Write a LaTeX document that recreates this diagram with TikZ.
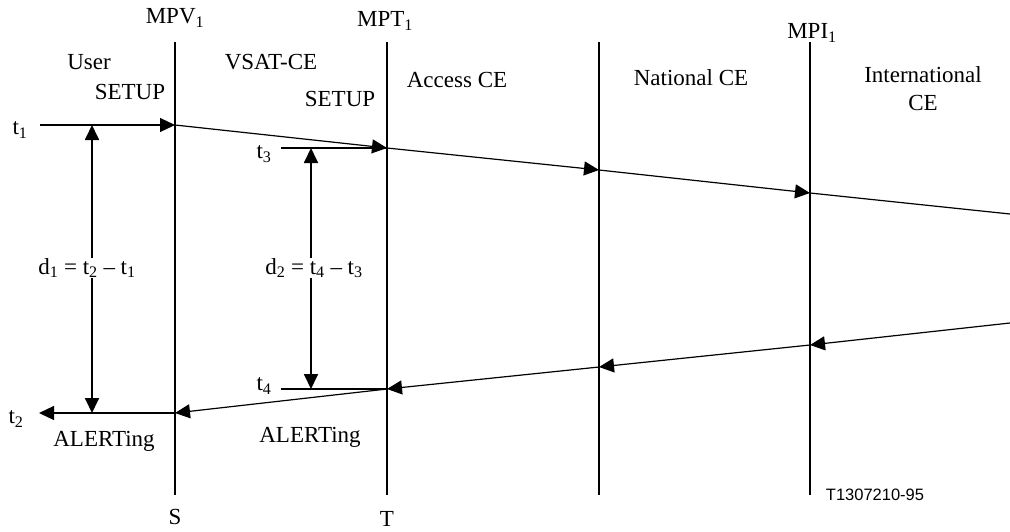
\documentclass[tikz,border=0pt]{standalone}
\usepackage{fontspec}
\setmainfont{Liberation Serif}
\newfontfamily\figsans{Liberation Sans}
\usetikzlibrary{arrows.meta}
\newcommand\sub[1]{\textsubscript{#1}}
\begin{document}
\begin{tikzpicture}[x=1pt,y=-1pt,
  lbl/.style={font=\fontsize{23}{26}\selectfont, inner sep=0pt},
  sepline/.style={line width=1.9pt},
  tick/.style={line width=1.6pt},
  tipA/.tip={Triangle[length=15pt,width=14pt]},
  msg/.style={line width=1.2pt, -tipA},
  span/.style={line width=1.8pt, tipA-tipA}]
\useasboundingbox (0,0) rectangle (1010,531);

% reference points (vertical boundaries)
\foreach \n/\x in {V/175,T/387,N/599,I/810}{
  \coordinate (\n top) at (\x,42);
  \coordinate (\n bot) at (\x,495);
}
% message crossings
\coordinate (V1) at (175,125);
\coordinate (T1) at (387,148);
\coordinate (N1) at (599,170);
\coordinate (I1) at (810,193);
\coordinate (E1) at (1010,214);
\coordinate (E2) at (1010,323);
\coordinate (I2) at (810,345);
\coordinate (N2) at (599,367);
\coordinate (T2) at (387,389);
\coordinate (V2) at (175,413);
% free ends
\coordinate (s1) at (40,125);
\coordinate (s2) at (39,413);
\coordinate (s3) at (281,148);
\coordinate (s4) at (281,389);
\coordinate (d1a) at (92,125);
\coordinate (d1b) at (92,413);
\coordinate (d2a) at (311,148);
\coordinate (d2b) at (311,389);

% boundaries
\foreach \n in {V,T,N,I}{ \draw[sepline] (\n top) -- (\n bot); }

% SETUP forward
\draw[msg] (s1) -- (V1);
\draw[msg] (V1) -- (T1);
\draw[msg] (T1) -- (N1);
\draw[msg] (N1) -- (I1);
\draw[line width=1.2pt] (I1) -- (E1);
\draw[tick] (s3) -- (T1);

% ALERTing backward
\draw[msg] (E2) -- (I2);
\draw[msg] (I2) -- (N2);
\draw[msg] (N2) -- (T2);
\draw[msg] (T2) -- (V2);
\draw[msg] (V2) -- (s2);
\draw[tick] (s4) -- (T2);

% delays
\draw[span] (d1a) -- (d1b);
\draw[span] (d2a) -- (d2b);
\node[lbl, fill=white] (d1) at (87,268) {d\sub{1} = t\sub{2} – t\sub{1}};
\node[lbl, fill=white] (d2) at (314,268) {d\sub{2} = t\sub{4} – t\sub{3}};

% labels
\node[lbl] (mpv) at (175,18) {MPV\sub{1}};
\node[lbl] (mpt) at (385,21) {MPT\sub{1}};
\node[lbl] (mpi) at (812,33) {MPI\sub{1}};
\node[lbl] (user) at (89,62) {User};
\node[lbl] (setupA) at (130,92) {SETUP};
\node[lbl] (vsat) at (271,62) {VSAT-CE};
\node[lbl] (setupB) at (340,99) {SETUP};
\node[lbl] (acc) at (457,80) {Access CE};
\node[lbl] (nat) at (691,78) {National CE};
\node[lbl, align=center, font=\fontsize{23}{28}\selectfont] (intl) at (923,89) {International\\CE};
\node[lbl] (t1) at (20,130) {t\sub{1}};
\node[lbl] (t3) at (264,154) {t\sub{3}};
\node[lbl] (t4) at (264,386) {t\sub{4}};
\node[lbl] (t2) at (16,419) {t\sub{2}};
\node[lbl] (alA) at (104,441) {ALERTing};
\node[lbl] (alB) at (310,437) {ALERTing};
\node[lbl] (S) at (175,517) {S};
\node[lbl] (T) at (387,519) {T};
\node[inner sep=0pt, font=\figsans\fontsize{16.5}{18}\selectfont] (fig) at (875,495) {T1307210-95};
\end{tikzpicture}
\end{document}
